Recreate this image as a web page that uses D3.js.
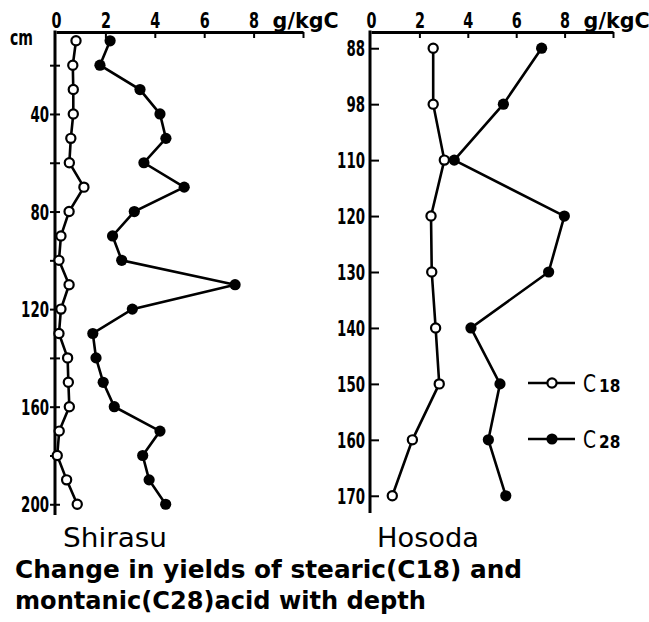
<!DOCTYPE html>
<html>
<head>
<meta charset="utf-8">
<script src="https://cdn.jsdelivr.net/npm/d3@7"></script>
<style>
  html, body { margin: 0; padding: 0; background: #fff; }
  svg { display: block; }
  .num { font-family: "DejaVu Sans Condensed", "DejaVu Sans", sans-serif; font-weight: bold; fill: #000; }
  .site { font-family: "DejaVu Sans Condensed", "DejaVu Sans", sans-serif; fill: #000; }
  .caption { font-family: "DejaVu Sans", sans-serif; font-weight: bold; fill: #000; }
</style>
</head>
<body>
<script>
// Shirasu profile: depth in cm, yields in g/kgC
const shirasuDepth = [10, 20, 30, 40, 50, 60, 70, 80, 90, 100, 110, 120, 130, 140, 150, 160, 170, 180, 190, 200];
const shirasuC18 = [0.81, 0.68, 0.70, 0.70, 0.60, 0.54, 1.13, 0.53, 0.20, 0.12, 0.53, 0.20, 0.12, 0.47, 0.50, 0.54, 0.13, 0.05, 0.43, 0.86];
const shirasuC28 = [2.19, 1.78, 3.40, 4.21, 4.45, 3.56, 5.19, 3.17, 2.29, 2.66, 7.25, 3.09, 1.49, 1.62, 1.91, 2.36, 4.21, 3.51, 3.77, 4.44];

// Hosoda profile: sampled depths (cm), drawn evenly spaced
const hosodaDepth = ["88", "98", "110", "120", "130", "140", "150", "160", "170"];
const hosodaC18 = [2.57, 2.57, 3.03, 2.48, 2.51, 2.67, 2.82, 1.71, 0.88];
const hosodaC28 = [7.05, 5.47, 3.44, 7.99, 7.34, 4.13, 5.33, 4.85, 5.57];

const xTicks = [0, 2, 4, 6, 8, 10];
const xTickLabels = ["0", "2", "4", "6", "8", ""];
const shirasuYTicks = [20, 40, 60, 80, 100, 120, 140, 160, 180, 200];
const shirasuYLabels = [40, 80, 120, 160, 200];
const unitLabel = "g/kgC";
const depthUnit = "cm";
const siteNames = ["Shirasu", "Hosoda"];
const legendItems = [
  { main: "C", sub: "18", filled: false },
  { main: "C", sub: "28", filled: true },
];
const captionLines = ["Change in yields of stearic(C18) and", "montanic(C28)acid with depth"];

const width = 649, height = 622;
const svg = d3.select("body").append("svg").attr("width", width).attr("height", height);

// squeeze the condensed digits to the narrow typewriter look
const squeeze = (sel, perChar) =>
  sel.each(function () {
    const t = d3.select(this).text();
    if (t.length) d3.select(this).attr("textLength", t.length * perChar).attr("lengthAdjust", "spacingAndGlyphs");
  });

const styleXAxis = (g) => {
  g.select(".domain").attr("stroke", "#000").attr("stroke-width", 3);
  g.selectAll(".tick line").attr("stroke", "#000").attr("stroke-width", 2);
  g.selectAll(".tick")
    .filter((d) => d === 0)
    .select("line")
    .remove();
  g.selectAll(".tick text")
    .attr("class", "num")
    .attr("y", -4)
    .attr("dy", 0)
    .attr("font-size", 21)
    .call(squeeze, 10);
};

function drawPanel(opt) {
  const { x, y, depths, c18, c28, top, bottom } = opt;

  // x axis along the top
  const xAxis = svg
    .append("g")
    .attr("transform", `translate(0,${top})`)
    .call(d3.axisBottom(x).tickValues(xTicks).tickSize(6).tickSizeOuter(0).tickFormat((d, i) => xTickLabels[i]));
  xAxis.call(styleXAxis);

  svg
    .append("text")
    .attr("class", "num")
    .attr("x", x(8) + 19)
    .attr("y", top - 4)
    .attr("font-size", 21)
    .attr("textLength", 66)
    .attr("lengthAdjust", "spacingAndGlyphs")
    .text(unitLabel);

  // depth axis
  svg
    .append("line")
    .attr("x1", x(0) - 1)
    .attr("x2", x(0) - 1)
    .attr("y1", top - 1.5)
    .attr("y2", bottom)
    .attr("stroke", "#000")
    .attr("stroke-width", 3);
  const yAxis = svg.append("g").attr("transform", `translate(${x(0) - 1},0)`).call(opt.yAxis);
  yAxis.select(".domain").remove();
  yAxis.selectAll(".tick line").attr("stroke", "#000").attr("stroke-width", 2);
  yAxis.selectAll(".tick text").attr("class", "num").attr("font-size", 21).attr("dy", "0.36em").call(squeeze, 9.3);
  if (opt.tickCross) yAxis.selectAll(".tick line").attr("x1", opt.tickCross);

  const line = (values) =>
    d3
      .line()
      .x((d, i) => x(values[i]))
      .y((d) => y(d))(depths);

  svg.append("path").attr("d", line(c28)).attr("fill", "none").attr("stroke", "#000").attr("stroke-width", 2.6);
  svg.append("path").attr("d", line(c18)).attr("fill", "none").attr("stroke", "#000").attr("stroke-width", 2.6);

  svg
    .append("g")
    .selectAll("circle")
    .data(depths)
    .join("circle")
    .attr("cx", (d, i) => x(c28[i]))
    .attr("cy", (d) => y(d))
    .attr("r", 5.6)
    .attr("fill", "#000");

  svg
    .append("g")
    .selectAll("circle")
    .data(depths)
    .join("circle")
    .attr("cx", (d, i) => x(c18[i]))
    .attr("cy", (d) => y(d))
    .attr("r", 4.6)
    .attr("fill", "#fff")
    .attr("stroke", "#000")
    .attr("stroke-width", 2.2);

  svg
    .append("text")
    .attr("class", "site")
    .attr("x", opt.nameX)
    .attr("y", 547)
    .attr("font-size", 26)
    .attr("textLength", opt.nameWidth)
    .attr("lengthAdjust", "spacingAndGlyphs")
    .text(opt.name);
}

// Shirasu panel
const xLeft = d3.scaleLinear().domain([0, 10]).range([56, 303]);
const yLeft = d3.scaleLinear().domain([6.4, 204.4]).range([32, 515]);
drawPanel({
  x: xLeft,
  y: yLeft,
  depths: shirasuDepth,
  c18: shirasuC18,
  c28: shirasuC28,
  top: 32,
  bottom: 515,
  yAxis: d3
    .axisLeft(yLeft)
    .tickValues(shirasuYTicks)
    .tickSize(5)
    .tickPadding(1)
    .tickSizeOuter(0)
    .tickFormat((d) => (shirasuYLabels.includes(d) ? d : "")),
  tickCross: 5,
  name: siteNames[0],
  nameX: 63,
  nameWidth: 104,
});

svg
  .append("text")
  .attr("class", "num")
  .attr("x", 10)
  .attr("y", 45)
  .attr("font-size", 22)
  .attr("textLength", 23)
  .attr("lengthAdjust", "spacingAndGlyphs")
  .text(depthUnit);

// Hosoda panel
const xRight = d3.scaleLinear().domain([0, 10]).range([371, 613]);
const yRight = d3.scalePoint().domain(hosodaDepth).range([32, 512]).padding(0.29);
drawPanel({
  x: xRight,
  y: yRight,
  depths: hosodaDepth,
  c18: hosodaC18,
  c28: hosodaC28,
  top: 32,
  bottom: 513,
  yAxis: d3.axisLeft(yRight).tickSize(-9).tickPadding(5).tickSizeOuter(0),
  name: siteNames[1],
  nameX: 377,
  nameWidth: 102,
});

// legend
const legend = svg
  .append("g")
  .selectAll("g")
  .data(legendItems)
  .join("g")
  .attr("transform", (d, i) => `translate(528,${383 + i * 56})`);
legend.append("line").attr("x1", 0).attr("x2", 47).attr("stroke", "#000").attr("stroke-width", 2.6);
legend
  .append("circle")
  .attr("cx", 24)
  .attr("r", (d) => (d.filled ? 5.6 : 4.6))
  .attr("fill", (d) => (d.filled ? "#000" : "#fff"))
  .attr("stroke", "#000")
  .attr("stroke-width", (d) => (d.filled ? 0 : 2.2));
const legendText = legend.append("text").attr("class", "site").attr("x", 55).attr("y", 9);
legendText
  .append("tspan")
  .attr("font-size", 25)
  .attr("textLength", 13)
  .attr("lengthAdjust", "spacingAndGlyphs")
  .text((d) => d.main);
legendText
  .append("tspan")
  .attr("dx", 3)
  .attr("font-size", 17)
  .attr("font-weight", "bold")
  .text((d) => d.sub);

// caption
svg
  .append("g")
  .selectAll("text")
  .data(captionLines)
  .join("text")
  .attr("class", "caption")
  .attr("x", 15)
  .attr("y", (d, i) => 578 + i * 31)
  .attr("font-size", 24)
  .attr("textLength", (d, i) => [507, 411][i])
  .attr("lengthAdjust", "spacingAndGlyphs")
  .text((d) => d);
</script>
</body>
</html>
